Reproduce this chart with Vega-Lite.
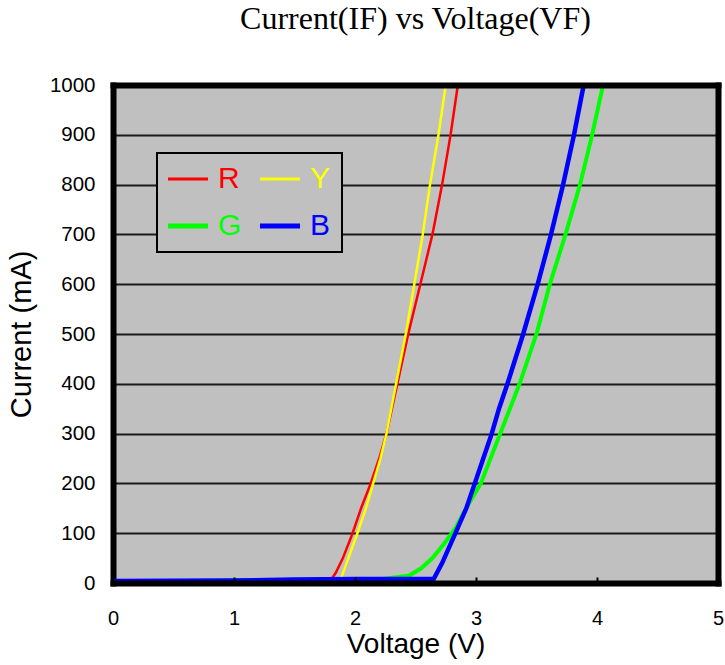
{
  "$schema": "https://vega.github.io/schema/vega-lite/v6.json",
  "width": 605,
  "height": 498,
  "autosize": "none",
  "padding": {"left": 113, "top": 85, "right": 7, "bottom": 82},
  "background": "white",
  "title": {
    "text": "Current(IF) vs Voltage(VF)",
    "font": "Liberation Serif",
    "fontSize": 32,
    "fontWeight": "normal",
    "color": "black",
    "anchor": "middle",
    "frame": "group",
    "offset": 39
  },
  "config": {
    "view": {"fill": "#c0c0c0", "stroke": null},
    "font": "Liberation Sans"
  },
  "resolve": {"axis": {"x": "independent", "y": "independent"}},
  "data": {
    "values": [
      {"series": "R", "v": 0, "i": 2},
      {"series": "R", "v": 1, "i": 3},
      {"series": "R", "v": 1.5, "i": 5},
      {"series": "R", "v": 1.8, "i": 6},
      {"series": "R", "v": 1.84, "i": 20},
      {"series": "R", "v": 1.9, "i": 50},
      {"series": "R", "v": 1.98, "i": 100},
      {"series": "R", "v": 2.05, "i": 150},
      {"series": "R", "v": 2.13, "i": 200},
      {"series": "R", "v": 2.2, "i": 250},
      {"series": "R", "v": 2.26, "i": 300},
      {"series": "R", "v": 2.35, "i": 400},
      {"series": "R", "v": 2.44, "i": 500},
      {"series": "R", "v": 2.54, "i": 600},
      {"series": "R", "v": 2.64, "i": 700},
      {"series": "R", "v": 2.72, "i": 800},
      {"series": "R", "v": 2.79, "i": 900},
      {"series": "R", "v": 2.85, "i": 1000},
      {"series": "Y", "v": 0, "i": 2},
      {"series": "Y", "v": 1, "i": 3},
      {"series": "Y", "v": 1.5, "i": 5},
      {"series": "Y", "v": 1.88, "i": 6},
      {"series": "Y", "v": 1.93, "i": 40},
      {"series": "Y", "v": 2.02, "i": 100},
      {"series": "Y", "v": 2.09, "i": 150},
      {"series": "Y", "v": 2.15, "i": 200},
      {"series": "Y", "v": 2.21, "i": 250},
      {"series": "Y", "v": 2.26, "i": 300},
      {"series": "Y", "v": 2.34, "i": 400},
      {"series": "Y", "v": 2.42, "i": 500},
      {"series": "Y", "v": 2.49, "i": 600},
      {"series": "Y", "v": 2.56, "i": 700},
      {"series": "Y", "v": 2.62, "i": 800},
      {"series": "Y", "v": 2.69, "i": 900},
      {"series": "Y", "v": 2.75, "i": 1000},
      {"series": "G", "v": 0, "i": 3},
      {"series": "G", "v": 1, "i": 5},
      {"series": "G", "v": 1.5, "i": 6},
      {"series": "G", "v": 2.2, "i": 7},
      {"series": "G", "v": 2.45, "i": 15},
      {"series": "G", "v": 2.55, "i": 30},
      {"series": "G", "v": 2.64, "i": 50},
      {"series": "G", "v": 2.74, "i": 80},
      {"series": "G", "v": 2.83, "i": 110},
      {"series": "G", "v": 2.93, "i": 155},
      {"series": "G", "v": 3.04, "i": 200},
      {"series": "G", "v": 3.12, "i": 250},
      {"series": "G", "v": 3.2, "i": 300},
      {"series": "G", "v": 3.28, "i": 350},
      {"series": "G", "v": 3.36, "i": 400},
      {"series": "G", "v": 3.43, "i": 450},
      {"series": "G", "v": 3.5, "i": 500},
      {"series": "G", "v": 3.61, "i": 600},
      {"series": "G", "v": 3.74, "i": 700},
      {"series": "G", "v": 3.86, "i": 800},
      {"series": "G", "v": 3.96, "i": 900},
      {"series": "G", "v": 4.05, "i": 1000},
      {"series": "B", "v": 0, "i": 4},
      {"series": "B", "v": 1, "i": 5},
      {"series": "B", "v": 1.5, "i": 7},
      {"series": "B", "v": 2.0, "i": 8},
      {"series": "B", "v": 2.65, "i": 8},
      {"series": "B", "v": 2.72, "i": 40},
      {"series": "B", "v": 2.83, "i": 100},
      {"series": "B", "v": 2.92, "i": 150},
      {"series": "B", "v": 2.99, "i": 200},
      {"series": "B", "v": 3.06, "i": 250},
      {"series": "B", "v": 3.13, "i": 300},
      {"series": "B", "v": 3.19, "i": 350},
      {"series": "B", "v": 3.26, "i": 400},
      {"series": "B", "v": 3.39, "i": 500},
      {"series": "B", "v": 3.51, "i": 600},
      {"series": "B", "v": 3.62, "i": 700},
      {"series": "B", "v": 3.72, "i": 800},
      {"series": "B", "v": 3.81, "i": 900},
      {"series": "B", "v": 3.89, "i": 1000}
    ]
  },
  "encoding": {
    "color": {
      "field": "series", "type": "nominal",
      "scale": {"domain": ["R", "Y", "G", "B"], "range": ["#ff0000", "#ffff00", "#00ff00", "#0000ff"]},
      "legend": {
        "title": null,
        "orient": "none",
        "legendX": 44,
        "legendY": 68,
        "direction": "horizontal",
        "columns": 2,
        "columnPadding": 8,
        "rowPadding": 17,
        "padding": 11,
        "symbolOffset": 5,
        "fillColor": "#c0c0c0",
        "strokeColor": "black",
        "symbolType": "stroke",
        "symbolSize": 1600,
        "symbolStrokeWidth": 4,
        "labelFontSize": 30,
        "labelOffset": 15,
        "labelFont": "Liberation Sans",
        "encode": {
          "legend": {"update": {"strokeWidth": {"value": 2}}},
          "labels": {"update": {"fill": {"scale": "color", "field": "value"}}},
          "symbols": {"update": {"strokeWidth": {"signal": "datum.value === 'R' || datum.value === 'Y' ? 3 : 5"}}}
        }
      }
    }
  },
  "layer": [
    {
      "transform": [{"filter": "datum.series === 'R'"}],
      "mark": {"type": "line", "strokeWidth": 2.5},
      "encoding": {
        "x": {
          "field": "v", "type": "quantitative",
          "scale": {"domain": [0, 5], "nice": false},
          "axis": {
            "values": [0, 1, 2, 3, 4, 5], "zindex": 1,
            "grid": false, "labelFlush": false,
            "domain": true, "domainColor": "black", "domainWidth": 6, "domainCap": "square",
            "ticks": true, "tickSize": -6, "tickColor": "black", "tickWidth": 2,
            "labelFontSize": 20, "labelColor": "black", "labelPadding": 31,
            "title": "Voltage (V)", "titleFontSize": 28, "titleFontWeight": "normal",
            "titleColor": "black", "titlePadding": 2
          }
        },
        "y": {
          "field": "i", "type": "quantitative",
          "scale": {"domain": [0, 1000], "nice": false},
          "axis": {
            "values": [0, 100, 200, 300, 400, 500, 600, 700, 800, 900, 1000],
            "format": "d", "labelFlush": false,
            "grid": true, "gridColor": "#1a1a1a", "gridWidth": 2, "gridOpacity": 1,
            "domain": true, "domainColor": "black", "domainWidth": 6, "domainCap": "square",
            "ticks": false,
            "labelFontSize": 20.5, "labelColor": "black", "labelPadding": 18,
            "title": "Current (mA)", "titleFontSize": 29, "titleFontWeight": "normal",
            "titleColor": "black", "titlePadding": 13
          }
        }
      }
    },
    {
      "transform": [{"filter": "datum.series === 'Y'"}],
      "mark": {"type": "line", "strokeWidth": 2.5},
      "encoding": {
        "x": {
          "field": "v", "type": "quantitative",
          "axis": {
            "orient": "top", "labels": false, "ticks": false, "grid": false, "title": null, "zindex": 1,
            "domain": true, "domainColor": "black", "domainWidth": 6, "domainCap": "square"
          }
        },
        "y": {
          "field": "i", "type": "quantitative",
          "axis": {
            "orient": "right", "labels": false, "ticks": false, "grid": false, "title": null, "zindex": 1,
            "domain": true, "domainColor": "black", "domainWidth": 6, "domainCap": "square"
          }
        }
      }
    },
    {
      "transform": [{"filter": "datum.series === 'G'"}],
      "mark": {"type": "line", "strokeWidth": 4},
      "encoding": {
        "x": {"field": "v", "type": "quantitative", "axis": null},
        "y": {"field": "i", "type": "quantitative", "axis": null}
      }
    },
    {
      "transform": [{"filter": "datum.series === 'B'"}],
      "mark": {"type": "line", "strokeWidth": 4.5},
      "encoding": {
        "x": {"field": "v", "type": "quantitative", "axis": null},
        "y": {"field": "i", "type": "quantitative", "axis": null}
      }
    }
  ]
}
